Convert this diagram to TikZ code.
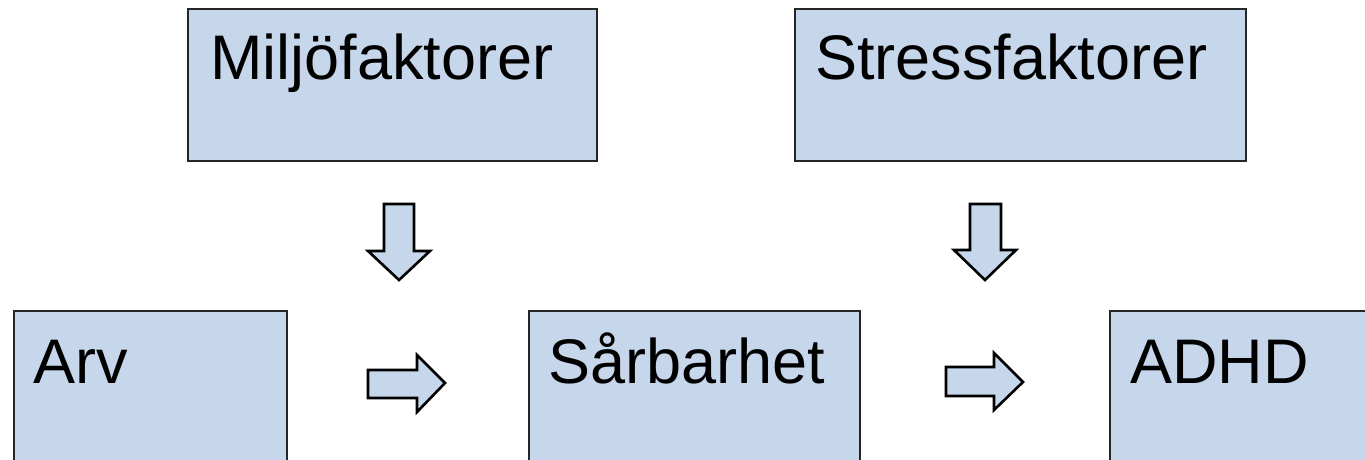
\documentclass[tikz,border=0pt]{standalone}
\usepackage{fontspec}
\setmainfont{Liberation Sans}
\definecolor{boxfill}{RGB}{198,215,236}
\begin{document}
\begin{tikzpicture}[x=1pt,y=-1pt,
  box/.style={draw=black!85,line width=1.7pt,fill=boxfill,anchor=north west,inner sep=0pt},
  lbl/.style={anchor=base west,inner sep=0pt,font=\fontsize{63}{70}\selectfont},
  blockarrow/.style={draw=black,line width=2.6pt,fill=boxfill,line join=miter}]
\useasboundingbox (0,0) rectangle (1365,460);
\clip (0,0) rectangle (1365,460);
\fill[white] (0,0) rectangle (1365,460);
% boxes
\node[box,minimum width=409pt,minimum height=152pt] (milj) at (187,8) {};
\node[box,minimum width=451pt,minimum height=152pt] (stress) at (794,8) {};
\node[box,minimum width=273pt,minimum height=160pt] (arv) at (13,310) {};
\node[box,minimum width=331pt,minimum height=160pt] (sar) at (528,310) {};
\node[box,minimum width=300pt,minimum height=160pt] (adhd) at (1109,310) {};
% labels
\node[lbl] (tmilj) at (210,80) {Miljöfaktorer};
\node[lbl] (tstress) at (815,80) {Stressfaktorer};
\node[lbl] (tarv) at (33,383) {Arv};
\node[lbl] (tsar) at (548,383) {Sårbarhet};
\node[lbl] (tadhd) at (1130,383) {ADHD};
% block arrows
\draw[blockarrow] (384,204) -- (414,204) -- (414,251) -- (430,251) -- (399,280) -- (368,251) -- (384,251) -- cycle;
\draw[blockarrow] (970,204) -- (1001,204) -- (1001,250) -- (1016,250) -- (985,280) -- (954,250) -- (970,250) -- cycle;
\draw[blockarrow] (368,370) -- (417,370) -- (417,355) -- (445,383) -- (417,412) -- (417,398) -- (368,398) -- cycle;
\draw[blockarrow] (946,367) -- (994,367) -- (994,353) -- (1023,382) -- (994,410) -- (994,396) -- (946,396) -- cycle;
\end{tikzpicture}
\end{document}
